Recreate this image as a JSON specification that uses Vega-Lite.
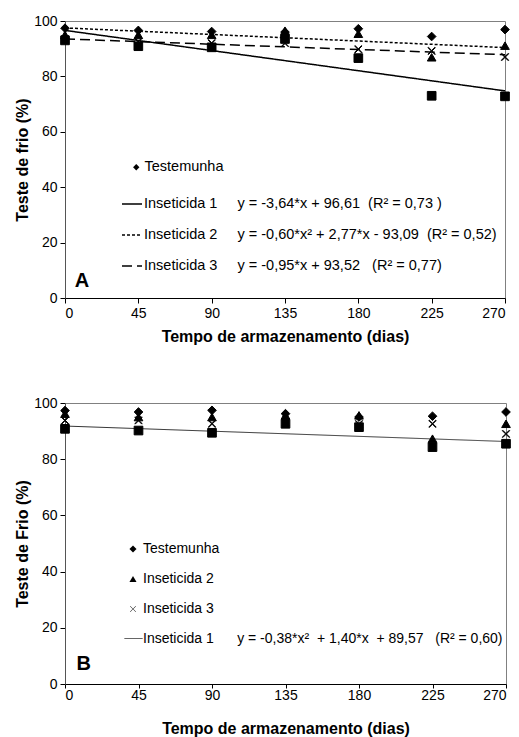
{
  "$schema": "https://vega.github.io/schema/vega-lite/v6.json",
  "padding": {"top": 13, "left": 14, "right": 8, "bottom": 0},
  "spacing": 50,
  "resolve": {
    "scale": {"shape": "independent", "strokeDash": "independent", "x": "independent", "y": "independent"},
    "legend": {"shape": "independent", "strokeDash": "independent"}
  },
  "datasets": {
    "pontos": [
      {"painel": "A", "serie": "Inseticida 3", "dias": 0, "valor": 93.5},
      {"painel": "A", "serie": "Inseticida 3", "dias": 45, "valor": 92.5},
      {"painel": "A", "serie": "Inseticida 3", "dias": 90, "valor": 92},
      {"painel": "A", "serie": "Inseticida 3", "dias": 135, "valor": 92},
      {"painel": "A", "serie": "Inseticida 3", "dias": 180, "valor": 89.8},
      {"painel": "A", "serie": "Inseticida 3", "dias": 225, "valor": 89.2},
      {"painel": "A", "serie": "Inseticida 3", "dias": 270, "valor": 87},
      {"painel": "A", "serie": "Inseticida 1", "dias": 0, "valor": 93},
      {"painel": "A", "serie": "Inseticida 1", "dias": 45, "valor": 90.9},
      {"painel": "A", "serie": "Inseticida 1", "dias": 90, "valor": 90.5},
      {"painel": "A", "serie": "Inseticida 1", "dias": 135, "valor": 93.5},
      {"painel": "A", "serie": "Inseticida 1", "dias": 180, "valor": 86.6},
      {"painel": "A", "serie": "Inseticida 1", "dias": 225, "valor": 73},
      {"painel": "A", "serie": "Inseticida 1", "dias": 270, "valor": 72.8},
      {"painel": "A", "serie": "Inseticida 2", "dias": 0, "valor": 95},
      {"painel": "A", "serie": "Inseticida 2", "dias": 45, "valor": 95},
      {"painel": "A", "serie": "Inseticida 2", "dias": 90, "valor": 95},
      {"painel": "A", "serie": "Inseticida 2", "dias": 135, "valor": 96.5},
      {"painel": "A", "serie": "Inseticida 2", "dias": 180, "valor": 95.4},
      {"painel": "A", "serie": "Inseticida 2", "dias": 225, "valor": 86.9},
      {"painel": "A", "serie": "Inseticida 2", "dias": 270, "valor": 91.1},
      {"painel": "A", "serie": "Testemunha", "dias": 0, "valor": 97.4},
      {"painel": "A", "serie": "Testemunha", "dias": 45, "valor": 96.6},
      {"painel": "A", "serie": "Testemunha", "dias": 90, "valor": 96.2},
      {"painel": "A", "serie": "Testemunha", "dias": 135, "valor": 96},
      {"painel": "A", "serie": "Testemunha", "dias": 180, "valor": 97.2},
      {"painel": "A", "serie": "Testemunha", "dias": 225, "valor": 94.4},
      {"painel": "A", "serie": "Testemunha", "dias": 270, "valor": 96.9},
      {"painel": "B", "serie": "Inseticida 3", "dias": 0, "valor": 93.8},
      {"painel": "B", "serie": "Inseticida 3", "dias": 45, "valor": 93.8},
      {"painel": "B", "serie": "Inseticida 3", "dias": 90, "valor": 92.6},
      {"painel": "B", "serie": "Inseticida 3", "dias": 135, "valor": 93},
      {"painel": "B", "serie": "Inseticida 3", "dias": 180, "valor": 92.5},
      {"painel": "B", "serie": "Inseticida 3", "dias": 225, "valor": 92.6},
      {"painel": "B", "serie": "Inseticida 3", "dias": 270, "valor": 89},
      {"painel": "B", "serie": "Inseticida 1", "dias": 0, "valor": 90.8},
      {"painel": "B", "serie": "Inseticida 1", "dias": 45, "valor": 90.2},
      {"painel": "B", "serie": "Inseticida 1", "dias": 90, "valor": 89.4},
      {"painel": "B", "serie": "Inseticida 1", "dias": 135, "valor": 92.6},
      {"painel": "B", "serie": "Inseticida 1", "dias": 180, "valor": 91.4},
      {"painel": "B", "serie": "Inseticida 1", "dias": 225, "valor": 84.3},
      {"painel": "B", "serie": "Inseticida 1", "dias": 270, "valor": 85.5},
      {"painel": "B", "serie": "Inseticida 2", "dias": 0, "valor": 96.2},
      {"painel": "B", "serie": "Inseticida 2", "dias": 45, "valor": 95},
      {"painel": "B", "serie": "Inseticida 2", "dias": 90, "valor": 95},
      {"painel": "B", "serie": "Inseticida 2", "dias": 135, "valor": 95.6},
      {"painel": "B", "serie": "Inseticida 2", "dias": 180, "valor": 95.6},
      {"painel": "B", "serie": "Inseticida 2", "dias": 225, "valor": 87.3},
      {"painel": "B", "serie": "Inseticida 2", "dias": 270, "valor": 92.6},
      {"painel": "B", "serie": "Testemunha", "dias": 0, "valor": 97.3},
      {"painel": "B", "serie": "Testemunha", "dias": 45, "valor": 96.8},
      {"painel": "B", "serie": "Testemunha", "dias": 90, "valor": 97.4},
      {"painel": "B", "serie": "Testemunha", "dias": 135, "valor": 96.2},
      {"painel": "B", "serie": "Testemunha", "dias": 180, "valor": 95},
      {"painel": "B", "serie": "Testemunha", "dias": 225, "valor": 95.3},
      {"painel": "B", "serie": "Testemunha", "dias": 270, "valor": 96.8}
    ],
    "tendencias": [
      {"painel": "A", "serie": "Inseticida 1", "dias": 0, "valor": 96.61},
      {"painel": "A", "serie": "Inseticida 1", "dias": 270, "valor": 74.77},
      {"painel": "A", "serie": "Inseticida 2", "dias": 0, "valor": 97.5},
      {"painel": "A", "serie": "Inseticida 2", "dias": 270, "valor": 90.4},
      {"painel": "A", "serie": "Inseticida 3", "dias": 0, "valor": 93.52},
      {"painel": "A", "serie": "Inseticida 3", "dias": 270, "valor": 87.82},
      {"painel": "B", "serie": "Inseticida 1", "dias": 0, "valor": 91.8},
      {"painel": "B", "serie": "Inseticida 1", "dias": 270, "valor": 86.3}
    ],
    "rotulos": [
      {"painel": "A", "texto": "A"},
      {"painel": "B", "texto": "B"}
    ]
  },
  "config": {
    "font": "Liberation Sans",
    "view": {"stroke": "#808080", "strokeWidth": 1},
    "axis": {
      "grid": false,
      "domainColor": "#000000",
      "tickColor": "#000000",
      "labelColor": "#000000",
      "labelFontSize": 14,
      "titleFontSize": 16,
      "titleFontWeight": "bold",
      "titleColor": "#000000",
      "tickSize": 5,
      "labelPadding": 3
    },
    "legend": {
      "title": null,
      "padding": 0,
      "labelFontSize": 14.5,
      "labelColor": "#000000",
      "labelLimit": 0,
      "orient": "none"
    }
  },
  "vconcat": [
    {
      "width": 440,
      "height": 277,
      "layer": [
        {
          "data": {"name": "tendencias"},
          "transform": [{"filter": "datum.painel == 'A'"}],
          "mark": {"type": "line", "color": "#000000", "strokeWidth": 1.5},
          "encoding": {
            "x": {"field": "dias", "type": "quantitative", "scale": {"domain": [0, 270], "nice": false}, "axis": {"values": [0, 45, 90, 135, 180, 225, 270], "title": "Tempo de armazenamento (dias)", "titlePadding": 8}},
            "y": {"field": "valor", "type": "quantitative", "scale": {"domain": [0, 100]}, "axis": {"values": [0, 20, 40, 60, 80, 100], "title": "Teste de frio (%)", "titlePadding": 3, "domainColor": "#555555"}},
            "strokeDash": {
              "field": "serie", "type": "nominal",
              "scale": {"domain": ["Inseticida 1", "Inseticida 2", "Inseticida 3"], "range": [[1, 0], [3, 2], [10, 5]]},
              "legend": {
                "legendX": 56, "legendY": 172,
                "symbolType": "stroke", "symbolSize": 400, "symbolStrokeColor": "#000000", "symbolStrokeWidth": 1.5,
                "labelOffset": 1, "rowPadding": 13,
                "labelExpr": "{'Inseticida 1': 'Inseticida 1\u00a0\u00a0\u00a0\u00a0\u00a0y = -3,64*x + 96,61\u00a0\u00a0(R² = 0,73 )', 'Inseticida 2': 'Inseticida 2\u00a0\u00a0\u00a0\u00a0\u00a0y = -0,60*x² + 2,77*x - 93,09\u00a0\u00a0(R² = 0,52)', 'Inseticida 3': 'Inseticida 3\u00a0\u00a0\u00a0\u00a0\u00a0y = -0,95*x + 93,52\u00a0\u00a0\u00a0(R² = 0,77)'}[datum.label]"
              }
            }
          }
        },
        {
          "data": {"name": "pontos"},
          "transform": [{"filter": "datum.painel == 'A'"}],
          "mark": {"type": "point", "filled": true, "color": "#000000", "stroke": "#000000", "strokeWidth": 1, "opacity": 1, "size": 75},
          "encoding": {
            "x": {"field": "dias", "type": "quantitative"},
            "y": {"field": "valor", "type": "quantitative"},
            "shape": {
              "field": "serie", "type": "nominal",
              "scale": {"domain": ["Testemunha", "Inseticida 1", "Inseticida 2", "Inseticida 3"], "range": ["diamond", "square", "triangle-up", "M-0.85,-0.75L-0.75,-0.85L0,-0.1L0.75,-0.85L0.85,-0.75L0.1,0L0.85,0.75L0.75,0.85L0,0.1L-0.75,0.85L-0.85,0.75L-0.1,0Z"]},
              "legend": {
                "values": ["Testemunha"], "legendX": 64, "legendY": 139,
                "symbolFillColor": "#000000", "symbolStrokeColor": "#000000", "symbolStrokeWidth": 1, "symbolSize": 40,
                "labelOffset": 1
              }
            }
          }
        },
        {
          "data": {"name": "rotulos"},
          "transform": [{"filter": "datum.painel == 'A'"}],
          "mark": {"type": "text", "fontSize": 20, "fontWeight": "bold", "align": "left", "baseline": "middle", "color": "#000000"},
          "encoding": {
            "x": {"datum": 6},
            "y": {"datum": 6},
            "text": {"field": "texto"}
          }
        }
      ]
    },
    {
      "width": 441,
      "height": 281,
      "layer": [
        {
          "data": {"name": "tendencias"},
          "transform": [{"filter": "datum.painel == 'B'"}],
          "mark": {"type": "line", "color": "#333333", "strokeWidth": 1},
          "encoding": {
            "x": {"field": "dias", "type": "quantitative", "scale": {"domain": [0, 270], "nice": false}, "axis": {"values": [0, 45, 90, 135, 180, 225, 270], "title": "Tempo de armazenamento (dias)", "titlePadding": 18, "labelPadding": 0, "tickSize": 4}},
            "y": {"field": "valor", "type": "quantitative", "scale": {"domain": [0, 100]}, "axis": {"values": [0, 20, 40, 60, 80, 100], "title": "Teste de Frio (%)", "titlePadding": 3, "domainColor": "#555555"}},
            "strokeDash": {
              "field": "serie", "type": "nominal",
              "scale": {"domain": ["Inseticida 1"], "range": [[1, 0]]},
              "legend": {
                "legendX": 59, "legendY": 226,
                "symbolType": "stroke", "symbolSize": 324, "symbolStrokeColor": "#333333", "symbolStrokeWidth": 1,
                "labelOffset": 0, "labelFontSize": 14,
                "labelExpr": "{'Inseticida 1': 'Inseticida 1\u00a0\u00a0\u00a0\u00a0\u00a0\u00a0y = -0,38*x²\u00a0 + 1,40*x\u00a0 + 89,57\u00a0\u00a0\u00a0(R² = 0,60)'}[datum.label]"
              }
            }
          }
        },
        {
          "data": {"name": "pontos"},
          "transform": [{"filter": "datum.painel == 'B'"}],
          "mark": {"type": "point", "filled": true, "color": "#000000", "stroke": "#000000", "strokeWidth": 1, "opacity": 1, "size": 75},
          "encoding": {
            "x": {"field": "dias", "type": "quantitative"},
            "y": {"field": "valor", "type": "quantitative"},
            "shape": {
              "field": "serie", "type": "nominal",
              "scale": {"domain": ["Testemunha", "Inseticida 1", "Inseticida 2", "Inseticida 3"], "range": ["diamond", "square", "triangle-up", "M-0.85,-0.75L-0.75,-0.85L0,-0.1L0.75,-0.85L0.85,-0.75L0.1,0L0.85,0.75L0.75,0.85L0,0.1L-0.75,0.85L-0.85,0.75L-0.1,0Z"]},
              "legend": {
                "values": ["Testemunha", "Inseticida 2", "Inseticida 3"], "legendX": 61, "legendY": 139,
                "symbolFillColor": "#000000", "symbolStrokeColor": "#000000", "symbolStrokeWidth": 1, "symbolSize": 50,
                "labelOffset": 3, "rowPadding": 16, "labelFontSize": 14
              }
            }
          }
        },
        {
          "data": {"name": "rotulos"},
          "transform": [{"filter": "datum.painel == 'B'"}],
          "mark": {"type": "text", "fontSize": 20, "fontWeight": "bold", "align": "left", "baseline": "middle", "color": "#000000"},
          "encoding": {
            "x": {"datum": 7},
            "y": {"datum": 7},
            "text": {"field": "texto"}
          }
        }
      ]
    }
  ]
}
